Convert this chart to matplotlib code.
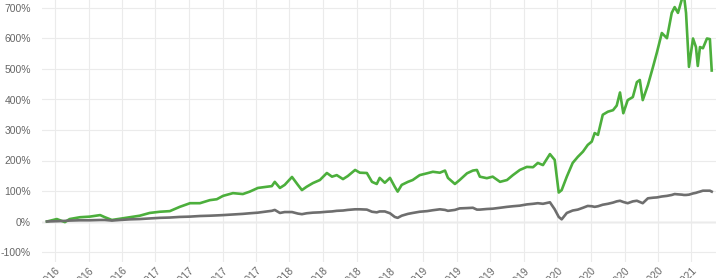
import matplotlib
matplotlib.use("Agg")
import matplotlib.pyplot as plt
import matplotlib.dates as mdates
import pandas as pd
import numpy as np

dates = [
    "2016-05-10", "2016-06-06", "2016-06-28", "2016-07-11", "2016-08-08", "2016-09-04",
    "2016-10-02", "2016-10-15", "2016-11-03", "2016-11-25", "2016-12-22", "2017-01-18",
    "2017-02-14", "2017-03-14", "2017-04-10", "2017-05-07", "2017-06-04", "2017-07-01",
    "2017-07-28", "2017-08-16", "2017-09-02", "2017-09-29", "2017-10-26", "2017-11-14",
    "2017-12-06", "2017-12-31", "2018-01-13", "2018-01-21", "2018-02-04", "2018-02-17",
    "2018-03-09", "2018-03-25", "2018-04-05", "2018-04-18", "2018-05-05", "2018-05-24",
    "2018-06-12", "2018-06-26", "2018-07-09", "2018-07-26", "2018-08-08", "2018-08-28",
    "2018-09-10", "2018-09-29", "2018-10-13", "2018-10-26", "2018-11-03", "2018-11-17",
    "2018-12-01", "2018-12-14", "2018-12-22", "2019-01-02", "2019-01-19", "2019-02-01",
    "2019-02-20", "2019-03-12", "2019-03-28", "2019-04-16", "2019-04-30", "2019-05-08",
    "2019-05-27", "2019-06-09", "2019-06-29", "2019-07-15", "2019-07-26", "2019-08-03",
    "2019-08-22", "2019-09-07", "2019-09-27", "2019-10-16", "2019-11-01", "2019-11-20",
    "2019-12-09", "2019-12-26", "2020-01-08", "2020-01-22", "2020-02-10", "2020-02-23",
    "2020-03-05", "2020-03-13", "2020-03-27", "2020-04-12", "2020-04-26", "2020-05-10",
    "2020-05-23", "2020-06-03", "2020-06-11", "2020-06-20", "2020-07-03", "2020-07-17",
    "2020-07-31", "2020-08-10", "2020-08-19", "2020-08-28", "2020-09-09", "2020-09-23",
    "2020-10-04", "2020-10-12", "2020-10-20", "2020-11-03", "2020-11-17", "2020-11-28",
    "2020-12-11", "2020-12-25", "2021-01-07", "2021-01-15", "2021-01-24", "2021-02-04",
    "2021-02-09", "2021-02-15", "2021-02-23", "2021-03-06", "2021-03-14", "2021-03-19",
    "2021-03-25", "2021-04-02", "2021-04-13", "2021-04-21", "2021-04-26",
]

fund_return = [
    0, 8, -2, 8, 14, 16,
    21, 14, 5, 9, 14, 19,
    28, 32, 34, 48, 60, 60,
    70, 73, 84, 93, 90, 98,
    110, 114, 116, 130, 110, 120,
    146, 120, 103, 114, 126, 136,
    159, 147, 152, 139, 149, 169,
    160, 159, 130, 123, 143, 127,
    143, 114, 98, 120, 130, 136,
    152, 158, 163, 160, 167, 143,
    123, 136, 158, 167, 169, 147,
    142, 147, 130, 136, 152, 169,
    179, 178, 192, 185, 221, 202,
    95, 103, 147, 192, 212, 229,
    251, 262, 290, 284, 350, 360,
    365, 380, 423, 355, 398, 408,
    457, 464, 398, 447, 507, 556,
    618, 601, 684, 703, 684, 730,
    745, 684, 507, 600, 572, 510,
    572, 568, 600, 598, 495,
]

index_return = [
    0, 1, 2, 3, 4, 4,
    5, 5, 3, 5, 7, 8,
    10, 12, 13, 15, 16, 18,
    19, 20, 21, 23, 25, 27,
    29, 33, 35, 38, 28, 31,
    31, 26, 24, 27, 29, 30,
    32, 33, 35, 36, 38, 40,
    40, 39, 32, 30, 33, 33,
    27, 15, 12, 19, 25, 28,
    32, 34, 37, 40, 38, 35,
    38, 43, 44, 45, 39, 39,
    41, 42, 45, 48, 50, 52,
    56, 58, 60, 58, 63, 40,
    15, 7, 28, 36, 39, 45,
    51, 50, 48, 50, 55, 58,
    62, 66, 68, 64, 60, 66,
    68, 64, 60, 76, 78, 79,
    82, 84, 87, 90, 89, 88,
    87, 87, 88, 92, 94, 96,
    98, 101, 101, 101, 98,
]

y_ticks = [-100, 0, 100, 200, 300, 400, 500, 600, 700, 800]

W, H = 716, 278
fig = plt.figure(figsize=(W / 100, H / 100), dpi=100)
fig.patch.set_facecolor("white")

# pixel layout of the (cropped) reference
left_px, right_px = 42, 716
zero_px, px_per_100 = 221.5, 30.5
bottom_px = 262
ymin = -(bottom_px - zero_px) / px_per_100 * 100
ymax = 800
top_px = zero_px - ymax / 100 * px_per_100
ax = fig.add_axes([left_px / W, (H - bottom_px) / H,
                   (right_px - left_px) / W, (bottom_px - top_px) / H])

d = pd.to_datetime(dates)
ax.plot(d, fund_return, color="#4caf3c", lw=1.9, zorder=3, solid_joinstyle="round")
ax.plot(d, index_return, color="#6e6e6e", lw=1.9, zorder=4, solid_joinstyle="round")

base = mdates.date2num(pd.Timestamp("2016-06-01"))
days_per_px = 91.31 / 33.5
ax.set_xlim(base + (left_px - 55) * days_per_px, base + (right_px - 55) * days_per_px)
ax.set_ylim(ymin, ymax)

ax.xaxis.set_major_locator(mdates.MonthLocator(bymonth=[3, 6, 9, 12], bymonthday=1))
ax.xaxis.set_major_formatter(mdates.DateFormatter("%b %Y"))
ax.set_yticks(y_ticks)
ax.yaxis.set_major_formatter(matplotlib.ticker.FuncFormatter(lambda v, p: f"{int(v)}%"))

ax.grid(True, color="#ebebeb", lw=0.8, zorder=0)
ax.axhline(0, color="#cfcfcf", lw=1.0, zorder=1)
for s in ax.spines.values():
    s.set_visible(False)
ax.tick_params(axis="both", length=0, colors="#666666", labelsize=7.5)
ax.tick_params(axis="y", pad=8)
ax.tick_params(axis="x", pad=3)
for lab in ax.get_yticklabels():
    lab.set_fontfamily("Liberation Sans")
for lab in ax.get_xticklabels():
    lab.set_fontfamily("Liberation Sans")
    lab.set_rotation(45)
    lab.set_ha("right")
    lab.set_rotation_mode("anchor")

fig.savefig("out.png", dpi=100)
